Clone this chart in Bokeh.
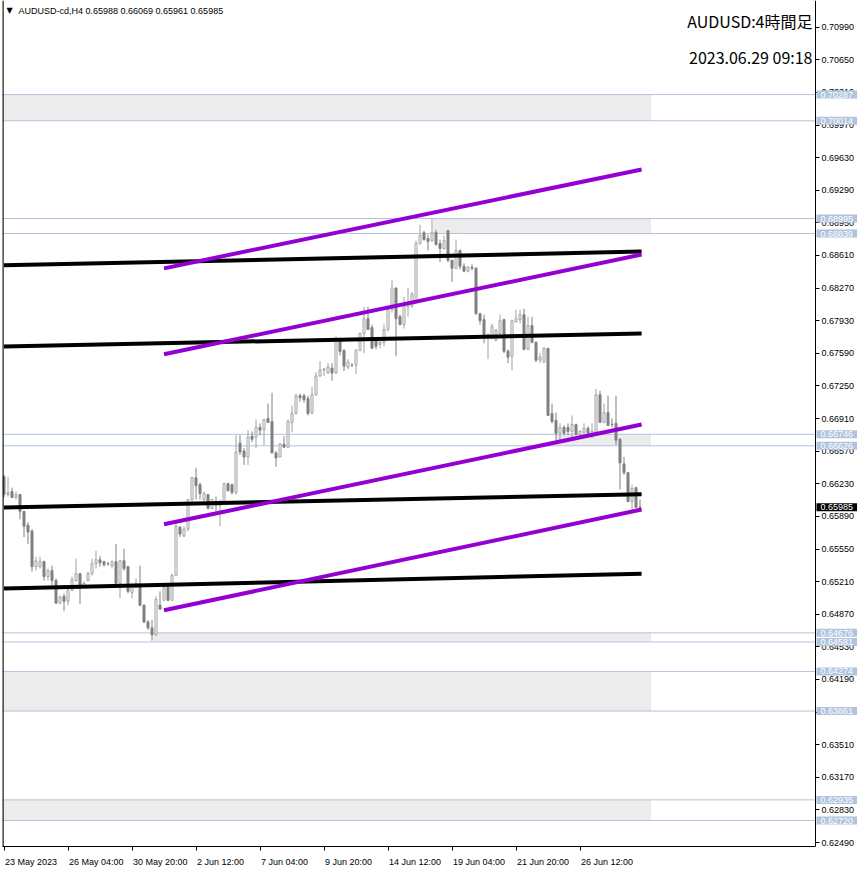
from bokeh.plotting import figure
from bokeh.models import (Range1d, FixedTicker, PrintfTickFormatter, Span, Label,
                          ColumnDataSource, LinearAxis)
from bokeh.embed import file_html
from bokeh.resources import INLINE

# ---------------- data (AUDUSD H4) ----------------
opens = [0.66303,0.66118,0.66149,0.66087,0.66118,0.65943,0.65799,0.65737,0.65366,0.65366,
0.65418,0.65263,0.65325,0.65222,0.64985,0.65057,0.65006,0.65119,0.65222,0.65294,
0.65170,0.65222,0.65294,0.65397,0.65438,0.65418,0.65397,0.65376,0.65418,0.65191,
0.65428,0.65366,0.65098,0.65150,0.65160,0.64964,0.64789,0.64728,0.64655,0.64964,
0.65016,0.65160,0.65016,0.65273,0.65778,0.65685,0.65758,0.66067,0.66293,0.66221,
0.66067,0.66118,0.65974,0.66046,0.66005,0.66046,0.66231,0.66221,0.66139,0.66654,
0.66571,0.66509,0.66726,0.66715,0.66818,0.66798,0.66911,0.66880,0.66551,0.66509,
0.66643,0.66612,0.66870,0.66963,0.67148,0.67148,0.67117,0.66973,0.67158,0.67354,
0.67416,0.67385,0.67436,0.67385,0.67725,0.67622,0.67447,0.67467,0.67467,0.67622,
0.67797,0.67951,0.67859,0.67745,0.67684,0.67704,0.67838,0.68044,0.68271,0.67972,
0.67890,0.68075,0.68085,0.68127,0.68734,0.68848,0.68786,0.68765,0.68848,0.68734,
0.68683,0.68868,0.68559,0.68477,0.68662,0.68497,0.68446,0.68487,0.68477,0.68003,
0.67941,0.67757,0.67776,0.67725,0.67797,0.67941,0.67611,0.67560,0.67920,0.67941,
0.67993,0.67632,0.67879,0.67704,0.67519,0.67498,0.67642,0.66963,0.66890,0.66757,
0.66818,0.66818,0.66777,0.66849,0.66746,0.66767,0.66808,0.66757,0.66767,0.67158,
0.66870,0.66973,0.66849,0.66860,0.66695,0.66437,0.66345,0.66046,0.66190,0.65988]

highs = [0.66324,0.66303,0.66190,0.66149,0.66118,0.65943,0.65830,0.65758,0.65469,0.65469,
0.65428,0.65346,0.65376,0.65243,0.65067,0.65088,0.65160,0.65263,0.65449,0.65294,
0.65212,0.65315,0.65449,0.65531,0.65479,0.65428,0.65418,0.65428,0.65603,0.65438,
0.65552,0.65376,0.65191,0.65243,0.65376,0.64975,0.64810,0.64810,0.65057,0.65109,
0.65191,0.65191,0.65294,0.65809,0.65788,0.65788,0.66067,0.66303,0.66396,0.66242,
0.66149,0.66118,0.66067,0.66097,0.66067,0.66242,0.66242,0.66231,0.66736,0.66736,
0.66602,0.66788,0.66777,0.66901,0.66860,0.66901,0.67066,0.67179,0.66571,0.66654,
0.66726,0.66901,0.67045,0.67169,0.67169,0.67169,0.67148,0.67241,0.67395,0.67509,
0.67436,0.67488,0.67488,0.67766,0.67735,0.67632,0.67529,0.67488,0.67632,0.67807,
0.68075,0.68075,0.67890,0.67745,0.67735,0.67890,0.68054,0.68353,0.68271,0.67993,
0.68178,0.68271,0.68230,0.68765,0.68930,0.68868,0.68827,0.68992,0.68878,0.68775,
0.68817,0.68868,0.68569,0.68775,0.68672,0.68528,0.68497,0.68518,0.68487,0.68013,
0.67993,0.67797,0.67900,0.67848,0.67993,0.67951,0.67632,0.67941,0.68044,0.68044,
0.68054,0.67972,0.67972,0.67715,0.67591,0.67653,0.67642,0.67066,0.66973,0.66860,
0.66839,0.66860,0.66942,0.66849,0.66788,0.66860,0.66829,0.66860,0.67220,0.67200,
0.67066,0.67148,0.66911,0.67148,0.66705,0.66509,0.66345,0.66221,0.66200,0.66069]

lows = [0.66087,0.66097,0.66087,0.66067,0.65861,0.65675,0.65603,0.65315,0.65325,0.65346,
0.65222,0.65222,0.65170,0.64985,0.64975,0.64903,0.64964,0.65119,0.65212,0.64975,
0.65160,0.65212,0.65273,0.65346,0.65366,0.65366,0.65376,0.65346,0.65170,0.65037,
0.65325,0.65088,0.65037,0.65140,0.64954,0.64779,0.64707,0.64594,0.64645,0.64923,
0.65016,0.65006,0.65016,0.65273,0.65675,0.65675,0.65737,0.66046,0.66067,0.66067,
0.66046,0.65964,0.65974,0.65943,0.65788,0.66015,0.66149,0.66118,0.66118,0.66530,
0.66427,0.66427,0.66664,0.66602,0.66736,0.66633,0.66870,0.66551,0.66406,0.66509,
0.66602,0.66602,0.66767,0.66952,0.67086,0.67076,0.66942,0.66952,0.67148,0.67344,
0.67354,0.67375,0.67303,0.67375,0.67570,0.67406,0.67426,0.67447,0.67375,0.67611,
0.67591,0.67838,0.67642,0.67632,0.67642,0.67663,0.67817,0.68013,0.67560,0.67879,
0.67848,0.67972,0.68065,0.68106,0.68724,0.68765,0.68662,0.68755,0.68714,0.68539,
0.68672,0.68539,0.68333,0.68466,0.68466,0.68435,0.68435,0.68456,0.67993,0.67890,
0.67694,0.67529,0.67735,0.67715,0.67797,0.67591,0.67488,0.67416,0.67910,0.67900,
0.67622,0.67632,0.67694,0.67498,0.67488,0.67488,0.66942,0.66860,0.66685,0.66685,
0.66736,0.66736,0.66715,0.66736,0.66715,0.66736,0.66746,0.66705,0.66767,0.66870,
0.66860,0.66829,0.66818,0.66633,0.66170,0.66324,0.66036,0.65964,0.65984,0.65961]

closes = [0.66118,0.66139,0.66087,0.66118,0.65943,0.65788,0.65727,0.65366,0.65428,0.65418,
0.65263,0.65325,0.65222,0.64985,0.65047,0.65006,0.65119,0.65232,0.65294,0.65170,
0.65191,0.65294,0.65397,0.65438,0.65407,0.65387,0.65395,0.65418,0.65191,0.65428,
0.65346,0.65109,0.65160,0.65191,0.64964,0.64789,0.64728,0.64655,0.65026,0.64923,
0.65150,0.65016,0.65273,0.65788,0.65706,0.65758,0.66067,0.66293,0.66211,0.66128,
0.66128,0.65974,0.66067,0.66005,0.66046,0.66231,0.66159,0.66139,0.66561,0.66561,
0.66509,0.66715,0.66695,0.66818,0.66788,0.66901,0.66870,0.66551,0.66499,0.66643,
0.66612,0.66880,0.66963,0.67148,0.67127,0.67107,0.66963,0.67158,0.67354,0.67416,
0.67426,0.67447,0.67385,0.67735,0.67611,0.67457,0.67498,0.67465,0.67622,0.67797,
0.67951,0.67838,0.67642,0.67663,0.67704,0.67838,0.68044,0.68271,0.67951,0.67890,
0.68085,0.68106,0.68209,0.68734,0.68817,0.68775,0.68755,0.68848,0.68724,0.68683,
0.68765,0.68559,0.68477,0.68662,0.68497,0.68446,0.68487,0.68477,0.68003,0.67930,
0.67787,0.67787,0.67869,0.67828,0.67930,0.67611,0.67550,0.67930,0.67951,0.67993,
0.67632,0.67879,0.67704,0.67519,0.67550,0.67642,0.66942,0.66880,0.66757,0.66818,
0.66757,0.66777,0.66849,0.66746,0.66777,0.66808,0.66757,0.66777,0.67158,0.66870,
0.66973,0.66839,0.66847,0.66685,0.66448,0.66345,0.66046,0.66180,0.65984,0.65985]

x_tick_index = [0, 16, 32, 48, 64, 80, 96, 112, 128, 144]
x_tick_labels = ["23 May 2023", "26 May 04:00", "30 May 20:00", "2 Jun 12:00", "7 Jun 04:00",
                 "9 Jun 20:00", "14 Jun 12:00", "19 Jun 04:00", "21 Jun 20:00", "26 Jun 12:00"]

y_ticks = [0.70990, 0.70650, 0.70310, 0.69970, 0.69630, 0.69290, 0.68950, 0.68610, 0.68270,
           0.67930, 0.67590, 0.67250, 0.66910, 0.66570, 0.66230, 0.65890, 0.65550, 0.65210,
           0.64870, 0.64530, 0.64190, 0.63850, 0.63510, 0.63170, 0.62830, 0.62490]

zone_top = [0.70287, 0.68995, 0.66746, 0.64676, 0.64274, 0.62935]
zone_bottom = [0.70014, 0.68839, 0.66626, 0.64581, 0.63861, 0.62720]
zone_from = [-2.0, 107.25, 138.0, 37.25, -2.0, -2.0]
zone_to = [161.75, 161.75, 161.75, 161.75, 161.75, 161.75]

black_x0 = [0, 0, 0, 0]
black_y0 = [0.68507, 0.67662, 0.65983, 0.65138]
black_x1 = [159.4, 159.4, 159.4, 159.4]
black_y1 = [0.68651, 0.67796, 0.66120, 0.65292]

purple_x0 = [40, 40, 40, 40]
purple_y0 = [0.68476, 0.67580, 0.65808, 0.64911]
purple_x1 = [159.4, 159.4, 159.4, 159.4]
purple_y1 = [0.69506, 0.68620, 0.66848, 0.65962]

last_price = 0.65985
title_1 = "AUDUSD:4時間足"
title_2 = "2023.06.29 09:18"
legend_text = "AUDUSD-cd,H4  0.65988 0.66069 0.65961 0.65985"

# ---------------- layout helpers ----------------
Y0, Y1 = 0.62449, 0.71268
LEFT = 2
FRAME_W, FRAME_H = 856, 846
S = (Y1 - Y0) / FRAME_H
X0 = -0.375

def ax(px):
    return (px - LEFT) / 4 + X0

def ay(py):
    return Y1 - py * S

AXIS_X = ax(815)
label_w_px = [52, 54.5, 54.5, 47, 47, 47, 52, 52, 52, 52]
label_pos = [i + (w / 2 + 1) / 4 for i, w in zip(x_tick_index, label_w_px)]

p = figure(frame_width=FRAME_W, frame_height=FRAME_H, output_backend="svg", toolbar_location=None,
           x_range=Range1d(X0, X0 + FRAME_W / 4), y_range=Range1d(Y0, Y1),
           y_axis_location="right", min_border_left=LEFT, min_border_top=0,
           min_border_right=0, min_border_bottom=0)
p.outline_line_color = None
p.grid.visible = False
p.background_fill_color = "white"
p.border_fill_color = "white"

# zones
p.quad(left=zone_from, right=zone_to, top=zone_top, bottom=zone_bottom,
       fill_color="#ECECEC", line_color=None)
levels = zone_top + zone_bottom
p.segment(x0=[-2] * len(levels), y0=levels, x1=[AXIS_X] * len(levels), y1=levels,
          line_color="#B0C4DE", line_width=1)

# left border
p.add_layout(Span(location=X0 + 0.1, dimension="height", line_color="black", line_width=1.5))

# candles
idx = list(range(len(opens)))
up = [c >= o for o, c in zip(opens, closes)]
src = ColumnDataSource(dict(
    x=idx, o=opens, h=highs, l=lows, c=closes,
    top=[max(o, c) for o, c in zip(opens, closes)],
    bot=[min(o, c) for o, c in zip(opens, closes)],
    lc=["#A0A0A0" if u else "#808080" for u in up],
    fc=["white" if u else "#808080" for u in up],
))
p.segment(x0="x", y0="l", x1="x", y1="h", color="lc", line_width=1, source=src)
p.vbar(x="x", top="top", bottom="bot", width=0.5, fill_color="fc", line_color="lc",
       line_width=1, source=src)

# trend lines
p.segment(x0=black_x0, y0=black_y0, x1=black_x1, y1=black_y1, line_color="black",
          line_width=4, line_cap="butt")
p.segment(x0=purple_x0, y0=purple_y0, x1=purple_x1, y1=purple_y1, line_color="#9400D3",
          line_width=4, line_cap="butt")

# price axis (placed at the chart's right edge)
ya = p.yaxis[0]
ya.fixed_location = AXIS_X
ya.ticker = FixedTicker(ticks=y_ticks)
ya.formatter = PrintfTickFormatter(format="%.5f")
ya.major_label_text_font = "Liberation Sans"
ya.major_label_text_font_size = "9px"
ya.major_label_text_color = "black"
ya.major_tick_out = 4
ya.major_tick_in = 0
ya.minor_tick_line_color = None
ya.axis_line_color = "black"
ya.major_tick_line_color = "black"
ya.major_label_standoff = 2

# time axis: tick marks
xa = p.xaxis[0]
xa.ticker = FixedTicker(ticks=x_tick_index)
xa.bounds = (X0, AXIS_X)
xa.major_label_overrides = {i: "" for i in x_tick_index}
xa.major_label_text_font_size = "1px"
xa.major_label_standoff = 0
xa.major_tick_out = 4
xa.major_tick_in = 0
xa.minor_tick_line_color = None
xa.axis_line_color = "black"
xa.major_tick_line_color = "black"

# time axis: labels to the right of each tick
xl = LinearAxis(ticker=FixedTicker(ticks=label_pos),
                major_label_overrides={pos: t for pos, t in zip(label_pos, x_tick_labels)},
                axis_line_color=None, major_tick_line_color=None, minor_tick_line_color=None,
                major_label_standoff=0, major_label_text_font="Liberation Sans",
                major_label_text_font_size="9px", major_label_text_color="black")
p.add_layout(xl, "below")

# texts
p.add_layout(Label(x=ax(812), y=ay(20), text=title_1, text_align="right", text_baseline="middle",
                   text_font="Noto Sans CJK JP", text_font_size="16px", text_color="black"))
p.add_layout(Label(x=ax(812), y=ay(56), text=title_2, text_align="right", text_baseline="middle",
                   text_font="Noto Sans CJK JP", text_font_size="16px", text_color="black"))
p.add_layout(Label(x=ax(9), y=ay(10), text="▼", text_align="center", text_baseline="middle",
                   text_font="DejaVu Sans", text_font_size="8px", text_color="black"))
p.add_layout(Label(x=ax(18), y=ay(10.5), text=legend_text, text_align="left", text_baseline="middle",
                   text_font="Liberation Sans", text_font_size="9px", text_color="black"))

for lv in levels:
    p.add_layout(Label(x=ax(816), y=lv, text="%.5f" % lv, text_align="left", text_baseline="middle",
                       text_font="Liberation Sans", text_font_size="9px", text_color="white",
                       background_fill_color="#B0C4DE", padding=(4, 1)))
p.add_layout(Label(x=ax(816), y=last_price, text="%.5f" % last_price, text_align="left",
                   text_baseline="middle", text_font="Liberation Sans", text_font_size="9px",
                   text_color="white", background_fill_color="black", padding=(4, 1)))

open("out.html", "w").write(file_html(p, INLINE))
